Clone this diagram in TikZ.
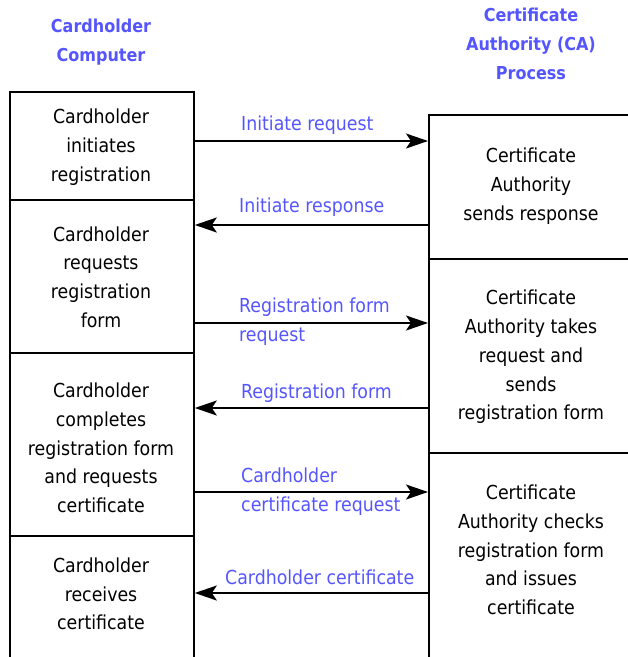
\documentclass[tikz,border=0pt]{standalone}
\usepackage{fontspec}
\setmainfont{DejaVu Sans Condensed}
\usetikzlibrary{arrows.meta}
\definecolor{labelblue}{RGB}{85,85,255}

\begin{document}
\begin{tikzpicture}[x=1pt, y=-1pt, >={Stealth[length=22pt,width=15pt,inset=5pt]},
	line cap=butt, line join=miter, font=\fontsize{19.3}{28.7}\selectfont,
	box/.style={draw, line width=1.8pt, inner sep=0pt, anchor=north west},
	boxtext/.style={align=center},
	msg/.style={text=labelblue, align=left, anchor=west, inner sep=0pt},
	head/.style={text=labelblue, font=\fontsize{17.8}{28.7}\selectfont\bfseries, align=center},
	link/.style={->, line width=1.8pt}]
\useasboundingbox (0,0) rectangle (628,657);
\clip (0,0) rectangle (628,657);

% ============ column headings ============
\node[head] (hch) at (101,42) {Cardholder\\Computer};
\node[head] (hca) at (531,44) {Certificate\\Authority (CA)\\Process};

% ============ Cardholder side ============
\node[box, minimum width=184pt, minimum height=108pt] (ch1) at (9,91) {};
\node[box, minimum width=184pt, minimum height=153pt] (ch2) at (9,199) {};
\node[box, minimum width=184pt, minimum height=183pt] (ch3) at (9,352) {};
\node[box, minimum width=184pt, minimum height=140pt] (ch4) at (9,535) {};

\node[boxtext] (ch1t) at (101,147) {Cardholder\\initiates\\registration};
\node[boxtext] (ch2t) at (101,277) {Cardholder\\requests\\registration\\form};
\node[boxtext] (ch3t) at (101,448) {Cardholder\\completes\\registration form\\and requests\\certificate};
\node[boxtext] (ch4t) at (101,594) {Cardholder\\receives\\certificate};

% ============ CA side ============
\node[box, minimum width=220pt, minimum height=144pt] (ca1) at (428,114) {};
\node[box, minimum width=220pt, minimum height=194pt] (ca2) at (428,258) {};
\node[box, minimum width=220pt, minimum height=220pt] (ca3) at (428,452) {};

\node[boxtext] (ca1t) at (531,186) {Certificate\\Authority\\sends response};
\node[boxtext] (ca2t) at (531,357) {Certificate\\Authority takes\\request and\\sends\\registration form};
\node[boxtext] (ca3t) at (531,550) {Certificate\\Authority checks\\registration form\\and issues\\certificate};

% ============ messages ============
\draw[link] (ch1.east |- 0,141) -- (ca1.west |- 0,141);
\draw[link] (ca1.west |- 0,225) -- (ch2.east |- 0,225);
\draw[link] (ch2.east |- 0,323) -- (ca2.west |- 0,323);
\draw[link] (ca2.west |- 0,408) -- (ch3.east |- 0,408);
\draw[link] (ch3.east |- 0,492) -- (ca3.west |- 0,492);
\draw[link] (ca3.west |- 0,593) -- (ch4.east |- 0,593);

\node[msg] (m1) at (241,125) {Initiate request};
\node[msg] (m2) at (239,207) {Initiate response};
\node[msg] (m3) at (239,322) {Registration form\\request};
\node[msg] (m4) at (241,393) {Registration form};
\node[msg] (m5) at (241,492) {Cardholder\\certificate request};
\node[msg] (m6) at (225,577) {Cardholder certificate};

\end{tikzpicture}
\end{document}
